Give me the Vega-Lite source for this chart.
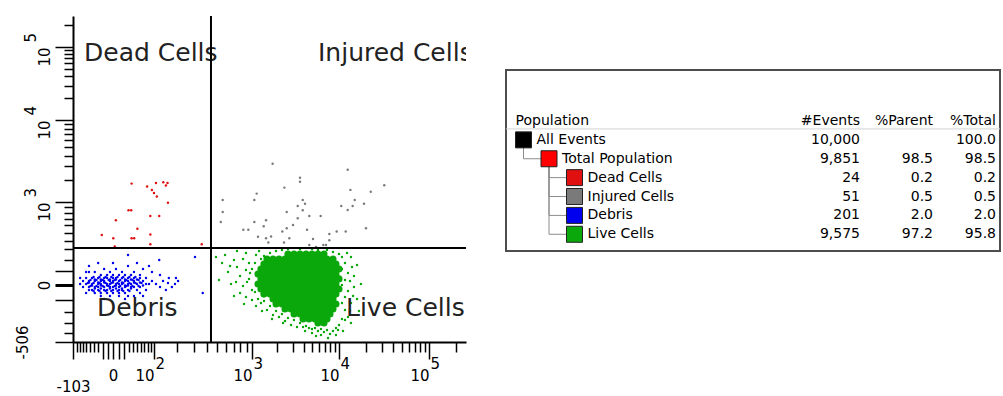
{
  "$schema": "https://vega.github.io/schema/vega-lite/v6.json",
  "background": "white",
  "padding": {"left": 15, "top": 15, "right": 0, "bottom": 0},
  "spacing": 38,
  "config": {"view": {"stroke": null}, "font": "DejaVu Sans"},
  "datasets": {
    "events": [
      {"population":"Dead Cells","x":37,"y":1820},{"population":"Dead Cells","x":78,"y":1670},{"population":"Dead Cells","x":93,"y":1495},{"population":"Dead Cells","x":107,"y":1858},{"population":"Dead Cells","x":135,"y":1895},{"population":"Dead Cells","x":153,"y":1858},{"population":"Dead Cells","x":146,"y":1720},{"population":"Dead Cells","x":100,"y":1357},{"population":"Dead Cells","x":110,"y":1210},{"population":"Dead Cells","x":155,"y":987},{"population":"Dead Cells","x":30,"y":844},{"population":"Dead Cells","x":36,"y":844},{"population":"Dead Cells","x":5,"y":678},{"population":"Dead Cells","x":88,"y":747},{"population":"Dead Cells","x":119,"y":747},{"population":"Dead Cells","x":51,"y":554},{"population":"Dead Cells","x":-22,"y":469},{"population":"Dead Cells","x":0.5,"y":428},{"population":"Dead Cells","x":37,"y":428},{"population":"Dead Cells","x":43,"y":428},{"population":"Dead Cells","x":88,"y":476},{"population":"Dead Cells","x":88,"y":357},{"population":"Dead Cells","x":3,"y":333},{"population":"Dead Cells","x":359,"y":357},
      {"population":"Injured Cells","x":1760,"y":3225},{"population":"Injured Cells","x":12500,"y":2730},{"population":"Injured Cells","x":3640,"y":2170},{"population":"Injured Cells","x":3640,"y":1930},{"population":"Injured Cells","x":31900,"y":1730},{"population":"Injured Cells","x":2410,"y":1610},{"population":"Injured Cells","x":13400,"y":1500},{"population":"Injured Cells","x":1140,"y":1330},{"population":"Injured Cells","x":22600,"y":1415},{"population":"Injured Cells","x":561,"y":1074},{"population":"Injured Cells","x":1067,"y":1074},{"population":"Injured Cells","x":3910,"y":1074},{"population":"Injured Cells","x":14980,"y":1074},{"population":"Injured Cells","x":4150,"y":967},{"population":"Injured Cells","x":3430,"y":923},{"population":"Injured Cells","x":3910,"y":844},{"population":"Injured Cells","x":10600,"y":923},{"population":"Injured Cells","x":14200,"y":923},{"population":"Injured Cells","x":19000,"y":967},{"population":"Injured Cells","x":561,"y":815},{"population":"Injured Cells","x":2565,"y":815},{"population":"Injured Cells","x":12500,"y":850},{"population":"Injured Cells","x":539,"y":652},{"population":"Injured Cells","x":1067,"y":652},{"population":"Injured Cells","x":1473,"y":678},{"population":"Injured Cells","x":3430,"y":709},{"population":"Injured Cells","x":4640,"y":747},{"population":"Injured Cells","x":6230,"y":747},{"population":"Injured Cells","x":1383,"y":588},{"population":"Injured Cells","x":846,"y":540},{"population":"Injured Cells","x":932,"y":540},{"population":"Injured Cells","x":2281,"y":515},{"population":"Injured Cells","x":2565,"y":560},{"population":"Injured Cells","x":4371,"y":540},{"population":"Injured Cells","x":9425,"y":515},{"population":"Injured Cells","x":11890,"y":515},{"population":"Injured Cells","x":19990,"y":560},{"population":"Injured Cells","x":1473,"y":428},{"population":"Injured Cells","x":1687,"y":450},{"population":"Injured Cells","x":2747,"y":428},{"population":"Injured Cells","x":7792,"y":482},{"population":"Injured Cells","x":7792,"y":405},{"population":"Injured Cells","x":1568,"y":378},{"population":"Injured Cells","x":2388,"y":378},{"population":"Injured Cells","x":4640,"y":349},{"population":"Injured Cells","x":6669,"y":349},{"population":"Injured Cells","x":7156,"y":349},{"population":"Injured Cells","x":5525,"y":327},{"population":"Injured Cells","x":1182,"y":446},{"population":"Injured Cells","x":3029,"y":606},{"population":"Injured Cells","x":5110,"y":419},
      {"population":"Debris","x":-24,"y":71},{"population":"Debris","x":-11,"y":71},{"population":"Debris","x":0,"y":71},{"population":"Debris","x":10.7,"y":71},{"population":"Debris","x":22.5,"y":71},{"population":"Debris","x":35.6,"y":71},
      {"population":"Debris","x":-45,"y":49},{"population":"Debris","x":-30,"y":49},{"population":"Debris","x":-17,"y":49},{"population":"Debris","x":-11,"y":49},{"population":"Debris","x":0,"y":49},{"population":"Debris","x":5.2,"y":49},{"population":"Debris","x":16.4,"y":49},{"population":"Debris","x":28.9,"y":49},{"population":"Debris","x":42.6,"y":49},{"population":"Debris","x":57.8,"y":49},
      {"population":"Debris","x":-53,"y":27},{"population":"Debris","x":-38,"y":27},{"population":"Debris","x":-24,"y":27},{"population":"Debris","x":-17,"y":27},{"population":"Debris","x":-5.5,"y":27},{"population":"Debris","x":0,"y":27},{"population":"Debris","x":10.7,"y":27},{"population":"Debris","x":22.5,"y":27},{"population":"Debris","x":28.9,"y":27},{"population":"Debris","x":42.6,"y":27},{"population":"Debris","x":66.1,"y":27},
      {"population":"Debris","x":-61,"y":7},{"population":"Debris","x":-45,"y":7},{"population":"Debris","x":-30,"y":7},{"population":"Debris","x":-24,"y":7},{"population":"Debris","x":-11,"y":7},{"population":"Debris","x":-5.5,"y":7},{"population":"Debris","x":5.2,"y":7},{"population":"Debris","x":10.7,"y":7},{"population":"Debris","x":16.4,"y":7},{"population":"Debris","x":28.9,"y":7},{"population":"Debris","x":35.6,"y":7},{"population":"Debris","x":50,"y":7},{"population":"Debris","x":74.7,"y":7},
      {"population":"Debris","x":-53,"y":-12},{"population":"Debris","x":-38,"y":-12},{"population":"Debris","x":-30,"y":-12},{"population":"Debris","x":-17,"y":-12},{"population":"Debris","x":-5.5,"y":-12},{"population":"Debris","x":0,"y":-12},{"population":"Debris","x":10.7,"y":-12},{"population":"Debris","x":22.5,"y":-12},{"population":"Debris","x":35.6,"y":-12},{"population":"Debris","x":42.6,"y":-12},{"population":"Debris","x":57.8,"y":-12},
      {"population":"Debris","x":-45,"y":-32},{"population":"Debris","x":-30,"y":-32},{"population":"Debris","x":-17,"y":-32},{"population":"Debris","x":-11,"y":-32},{"population":"Debris","x":0,"y":-32},{"population":"Debris","x":10.7,"y":-32},{"population":"Debris","x":16.4,"y":-32},{"population":"Debris","x":28.9,"y":-32},{"population":"Debris","x":50,"y":-32},
      {"population":"Debris","x":-24,"y":-52},{"population":"Debris","x":-11,"y":-52},{"population":"Debris","x":0,"y":-52},{"population":"Debris","x":10.7,"y":-52},{"population":"Debris","x":22.5,"y":-52},
      {"population":"Debris","x":-38,"y":38},{"population":"Debris","x":-24,"y":38},{"population":"Debris","x":-5.5,"y":38},{"population":"Debris","x":5.2,"y":38},{"population":"Debris","x":22.5,"y":38},{"population":"Debris","x":35.6,"y":38},{"population":"Debris","x":50,"y":38},
      {"population":"Debris","x":-53,"y":17},{"population":"Debris","x":-30,"y":17},{"population":"Debris","x":-17,"y":17},{"population":"Debris","x":0,"y":17},{"population":"Debris","x":16.4,"y":17},{"population":"Debris","x":42.6,"y":17},{"population":"Debris","x":57.8,"y":17},
      {"population":"Debris","x":-45,"y":-3},{"population":"Debris","x":-24,"y":-3},{"population":"Debris","x":-11,"y":-3},{"population":"Debris","x":5.2,"y":-3},{"population":"Debris","x":22.5,"y":-3},{"population":"Debris","x":28.9,"y":-3},{"population":"Debris","x":66.1,"y":-3},
      {"population":"Debris","x":-38,"y":-22},{"population":"Debris","x":-24,"y":-22},{"population":"Debris","x":-5.5,"y":-22},{"population":"Debris","x":5.2,"y":-22},{"population":"Debris","x":16.4,"y":-22},{"population":"Debris","x":35.6,"y":-22},
      {"population":"Debris","x":-41,"y":56},{"population":"Debris","x":-27,"y":56},{"population":"Debris","x":-14,"y":56},{"population":"Debris","x":-3,"y":56},{"population":"Debris","x":8,"y":56},{"population":"Debris","x":19,"y":56},{"population":"Debris","x":32,"y":56},{"population":"Debris","x":46,"y":56},
      {"population":"Debris","x":-49,"y":34},{"population":"Debris","x":-34,"y":34},{"population":"Debris","x":-20,"y":34},{"population":"Debris","x":-8,"y":34},{"population":"Debris","x":3,"y":34},{"population":"Debris","x":13,"y":34},{"population":"Debris","x":25,"y":34},{"population":"Debris","x":39,"y":34},{"population":"Debris","x":54,"y":34},
      {"population":"Debris","x":-56,"y":13},{"population":"Debris","x":-41,"y":13},{"population":"Debris","x":-27,"y":13},{"population":"Debris","x":-14,"y":13},{"population":"Debris","x":-3,"y":13},{"population":"Debris","x":8,"y":13},{"population":"Debris","x":19,"y":13},{"population":"Debris","x":32,"y":13},{"population":"Debris","x":46,"y":13},{"population":"Debris","x":62,"y":13},
      {"population":"Debris","x":-49,"y":-6},{"population":"Debris","x":-34,"y":-6},{"population":"Debris","x":-20,"y":-6},{"population":"Debris","x":-8,"y":-6},{"population":"Debris","x":3,"y":-6},{"population":"Debris","x":13,"y":-6},{"population":"Debris","x":25,"y":-6},{"population":"Debris","x":39,"y":-6},{"population":"Debris","x":54,"y":-6},
      {"population":"Debris","x":-41,"y":-38},{"population":"Debris","x":-27,"y":-38},{"population":"Debris","x":-14,"y":-38},{"population":"Debris","x":-3,"y":-38},{"population":"Debris","x":8,"y":-38},{"population":"Debris","x":19,"y":-38},{"population":"Debris","x":32,"y":-38},
      {"population":"Debris","x":-70,"y":27},{"population":"Debris","x":-61,"y":49},{"population":"Debris","x":-79,"y":7},{"population":"Debris","x":-70,"y":-12},{"population":"Debris","x":-61,"y":-52},{"population":"Debris","x":-53,"y":94},{"population":"Debris","x":-38,"y":94},{"population":"Debris","x":-17,"y":118},{"population":"Debris","x":-5.5,"y":94},{"population":"Debris","x":5.2,"y":118},{"population":"Debris","x":16.4,"y":94},{"population":"Debris","x":28.9,"y":143},{"population":"Debris","x":42.6,"y":94},{"population":"Debris","x":57.8,"y":71},{"population":"Debris","x":74.7,"y":49},{"population":"Debris","x":83.8,"y":7},{"population":"Debris","x":93.3,"y":27},{"population":"Debris","x":74.7,"y":-32},{"population":"Debris","x":57.8,"y":-52},{"population":"Debris","x":42.6,"y":-72},{"population":"Debris","x":28.9,"y":-72},{"population":"Debris","x":10.7,"y":-72},{"population":"Debris","x":-5.5,"y":-72},{"population":"Debris","x":-24,"y":-72},{"population":"Debris","x":-38,"y":-52},{"population":"Debris","x":-53,"y":-32},{"population":"Debris","x":107,"y":7},{"population":"Debris","x":122,"y":-12},{"population":"Debris","x":134,"y":27},{"population":"Debris","x":146,"y":-32},{"population":"Debris","x":159,"y":49},{"population":"Debris","x":173,"y":-12},{"population":"Debris","x":188,"y":7},{"population":"Debris","x":204,"y":27},{"population":"Debris","x":122,"y":71},{"population":"Debris","x":93.3,"y":94},{"population":"Debris","x":66.1,"y":118},{"population":"Debris","x":28.9,"y":244},{"population":"Debris","x":119,"y":196},{"population":"Debris","x":308,"y":224},{"population":"Debris","x":367,"y":-52},{"population":"Debris","x":193,"y":49},{"population":"Debris","x":155,"y":13},{"population":"Debris","x":-53,"y":143},{"population":"Debris","x":-30,"y":169},{"population":"Debris","x":0,"y":169},{"population":"Debris","x":50,"y":169},{"population":"Debris","x":83.8,"y":143},{"population":"Debris","x":-17,"y":-94},{"population":"Debris","x":22.5,"y":-94},{"population":"Debris","x":66.1,"y":-72},{"population":"Debris","x":-61,"y":94},{"population":"Debris","x":-79,"y":49},
      {"population":"Live Cells","x":488,"y":224},{"population":"Live Cells","x":553,"y":169},{"population":"Live Cells","x":588,"y":244},{"population":"Live Cells","x":625,"y":94},{"population":"Live Cells","x":664,"y":7},{"population":"Live Cells","x":704,"y":196},{"population":"Live Cells","x":747,"y":135},{"population":"Live Cells","x":793,"y":63},{"population":"Live Cells","x":793,"y":-52},{"population":"Live Cells","x":841,"y":205},{"population":"Live Cells","x":841,"y":-6},{"population":"Live Cells","x":891,"y":110},{"population":"Live Cells","x":891,"y":-79},{"population":"Live Cells","x":944,"y":42},{"population":"Live Cells","x":944,"y":169},{"population":"Live Cells","x":1000,"y":-32},{"population":"Live Cells","x":1000,"y":-101},{"population":"Live Cells","x":1000,"y":118},{"population":"Live Cells","x":520,"y":34},{"population":"Live Cells","x":704,"y":-72},{"population":"Live Cells","x":891,"y":264},{"population":"Live Cells","x":747,"y":284},
      {"population":"Live Cells","x":1087,"y":-45},{"population":"Live Cells","x":1087,"y":169},{"population":"Live Cells","x":1182,"y":-94},{"population":"Live Cells","x":1283,"y":-123},{"population":"Live Cells","x":1394,"y":-108},{"population":"Live Cells","x":1512,"y":-179},{"population":"Live Cells","x":1641,"y":-147},{"population":"Live Cells","x":1778,"y":-222},{"population":"Live Cells","x":1929,"y":-188},{"population":"Live Cells","x":2089,"y":-240},{"population":"Live Cells","x":2262,"y":-214},{"population":"Live Cells","x":2451,"y":-277},{"population":"Live Cells","x":2652,"y":-249},{"population":"Live Cells","x":2872,"y":-317},{"population":"Live Cells","x":3107,"y":-268},{"population":"Live Cells","x":3364,"y":-337},{"population":"Live Cells","x":3638,"y":-297},
      {"population":"Live Cells","x":3937,"y":-337},{"population":"Live Cells","x":4256,"y":-327},{"population":"Live Cells","x":4600,"y":-347},{"population":"Live Cells","x":4975,"y":-358},{"population":"Live Cells","x":5380,"y":-347},{"population":"Live Cells","x":5814,"y":-379},{"population":"Live Cells","x":6280,"y":-358},{"population":"Live Cells","x":6788,"y":-390},{"population":"Live Cells","x":7340,"y":-368},{"population":"Live Cells","x":7930,"y":-412},{"population":"Live Cells","x":8570,"y":-379},{"population":"Live Cells","x":9250,"y":-347},{"population":"Live Cells","x":10000,"y":-317},{"population":"Live Cells","x":9250,"y":-423},{"population":"Live Cells","x":6280,"y":-423},{"population":"Live Cells","x":4975,"y":-401},
      {"population":"Live Cells","x":10800,"y":224},{"population":"Live Cells","x":11670,"y":169},{"population":"Live Cells","x":10800,"y":118},{"population":"Live Cells","x":12600,"y":86},{"population":"Live Cells","x":11670,"y":34},{"population":"Live Cells","x":10800,"y":0},{"population":"Live Cells","x":12600,"y":-38},{"population":"Live Cells","x":11670,"y":-79},{"population":"Live Cells","x":13610,"y":-123},{"population":"Live Cells","x":10800,"y":-123},{"population":"Live Cells","x":11670,"y":-179},{"population":"Live Cells","x":12600,"y":-240},{"population":"Live Cells","x":10800,"y":-259},{"population":"Live Cells","x":13610,"y":-297},{"population":"Live Cells","x":14700,"y":-12},{"population":"Live Cells","x":15880,"y":-94},{"population":"Live Cells","x":14700,"y":63},{"population":"Live Cells","x":15880,"y":152},{"population":"Live Cells","x":13610,"y":224},
      {"population":"Live Cells","x":1394,"y":234},{"population":"Live Cells","x":1641,"y":264},{"population":"Live Cells","x":1929,"y":284},{"population":"Live Cells","x":2262,"y":295},{"population":"Live Cells","x":2652,"y":305},{"population":"Live Cells","x":3638,"y":305},{"population":"Live Cells","x":4975,"y":305},{"population":"Live Cells","x":5814,"y":295},{"population":"Live Cells","x":7340,"y":295},{"population":"Live Cells","x":8570,"y":274},{"population":"Live Cells","x":10000,"y":254},{"population":"Live Cells","x":1283,"y":205},
      {"population":"Live Cells","x":963,"y":86},{"population":"Live Cells","x":909,"y":20},{"population":"Live Cells","x":733,"y":20},{"population":"Live Cells","x":651,"y":143},{"population":"Live Cells","x":858,"y":-131},{"population":"Live Cells","x":1119,"y":-147},{"population":"Live Cells","x":1320,"y":-188},{"population":"Live Cells","x":1732,"y":-259},{"population":"Live Cells","x":2325,"y":-297},{"population":"Live Cells","x":4150,"y":-379},{"population":"Live Cells","x":5525,"y":-434},{"population":"Live Cells","x":7537,"y":-458},{"population":"Live Cells","x":11090,"y":-379},{"population":"Live Cells","x":13270,"y":-188},{"population":"Live Cells","x":14340,"y":-72},{"population":"Live Cells","x":13270,"y":27},{"population":"Live Cells","x":13970,"y":135},{"population":"Live Cells","x":12290,"y":264},{"population":"Live Cells","x":17570,"y":7},{"population":"Live Cells","x":16700,"y":-188},{"population":"Live Cells","x":1119,"y":244},{"population":"Live Cells","x":1216,"y":284},{"population":"Live Cells","x":11670,"y":-268},{"population":"Live Cells","x":9750,"y":-368}
    ],
    "liveCore": [
      {"x":2650,"y":254},{"x":3110,"y":254},{"x":3640,"y":254},{"x":4260,"y":254},{"x":4980,"y":254},{"x":5810,"y":254},{"x":6790,"y":254},
      {"x":1510,"y":205},{"x":1780,"y":205},{"x":2090,"y":205},{"x":2450,"y":205},{"x":2870,"y":205},{"x":3360,"y":205},{"x":3940,"y":205},{"x":4600,"y":205},{"x":5380,"y":205},{"x":6280,"y":205},{"x":7340,"y":205},{"x":8570,"y":205},
      {"x":1390,"y":160},{"x":1640,"y":160},{"x":1930,"y":160},{"x":2260,"y":160},{"x":2650,"y":160},{"x":3110,"y":160},{"x":3640,"y":160},{"x":4260,"y":160},{"x":4980,"y":160},{"x":5810,"y":160},{"x":6790,"y":160},{"x":7930,"y":160},{"x":9250,"y":160},
      {"x":1280,"y":118},{"x":1510,"y":118},{"x":1780,"y":118},{"x":2090,"y":118},{"x":2450,"y":118},{"x":2870,"y":118},{"x":3360,"y":118},{"x":3940,"y":118},{"x":4600,"y":118},{"x":5380,"y":118},{"x":6280,"y":118},{"x":7340,"y":118},{"x":8570,"y":118},{"x":10000,"y":118},
      {"x":1180,"y":79},{"x":1390,"y":79},{"x":1640,"y":79},{"x":1930,"y":79},{"x":2260,"y":79},{"x":2650,"y":79},{"x":3110,"y":79},{"x":3640,"y":79},{"x":4260,"y":79},{"x":4980,"y":79},{"x":5810,"y":79},{"x":6790,"y":79},{"x":7930,"y":79},{"x":9250,"y":79},
      {"x":1280,"y":42},{"x":1510,"y":42},{"x":1780,"y":42},{"x":2090,"y":42},{"x":2450,"y":42},{"x":2870,"y":42},{"x":3360,"y":42},{"x":3940,"y":42},{"x":4600,"y":42},{"x":5380,"y":42},{"x":6280,"y":42},{"x":7340,"y":42},{"x":8570,"y":42},{"x":10000,"y":42},
      {"x":1180,"y":7},{"x":1390,"y":7},{"x":1640,"y":7},{"x":1930,"y":7},{"x":2260,"y":7},{"x":2650,"y":7},{"x":3110,"y":7},{"x":3640,"y":7},{"x":4260,"y":7},{"x":4980,"y":7},{"x":5810,"y":7},{"x":6790,"y":7},{"x":7930,"y":7},{"x":9250,"y":7},
      {"x":1280,"y":-25},{"x":1510,"y":-25},{"x":1780,"y":-25},{"x":2090,"y":-25},{"x":2450,"y":-25},{"x":2870,"y":-25},{"x":3360,"y":-25},{"x":3940,"y":-25},{"x":4600,"y":-25},{"x":5380,"y":-25},{"x":6280,"y":-25},{"x":7340,"y":-25},{"x":8570,"y":-25},{"x":10000,"y":-25},
      {"x":1390,"y":-59},{"x":1640,"y":-59},{"x":1930,"y":-59},{"x":2260,"y":-59},{"x":2650,"y":-59},{"x":3110,"y":-59},{"x":3640,"y":-59},{"x":4260,"y":-59},{"x":4980,"y":-59},{"x":5810,"y":-59},{"x":6790,"y":-59},{"x":7930,"y":-59},{"x":9250,"y":-59},
      {"x":1780,"y":-94},{"x":2090,"y":-94},{"x":2450,"y":-94},{"x":2870,"y":-94},{"x":3360,"y":-94},{"x":3940,"y":-94},{"x":4600,"y":-94},{"x":5380,"y":-94},{"x":6280,"y":-94},{"x":7340,"y":-94},{"x":8570,"y":-94},
      {"x":1930,"y":-131},{"x":2260,"y":-131},{"x":2650,"y":-131},{"x":3110,"y":-131},{"x":3640,"y":-131},{"x":4260,"y":-131},{"x":4980,"y":-131},{"x":5810,"y":-131},{"x":6790,"y":-131},{"x":7930,"y":-131},{"x":9250,"y":-131},
      {"x":2450,"y":-171},{"x":2870,"y":-171},{"x":3360,"y":-171},{"x":3940,"y":-171},{"x":4600,"y":-171},{"x":5380,"y":-171},{"x":6280,"y":-171},{"x":7340,"y":-171},{"x":8570,"y":-171},
      {"x":3110,"y":-214},{"x":3640,"y":-214},{"x":4260,"y":-214},{"x":4980,"y":-214},{"x":5810,"y":-214},{"x":6790,"y":-214},{"x":7930,"y":-214},
      {"x":3940,"y":-259},{"x":4600,"y":-259},{"x":5380,"y":-259},{"x":6280,"y":-259},{"x":7340,"y":-259},
      {"x":5810,"y":-297},{"x":6790,"y":-297}
    ],
    "quadrants": [
      {"label":"Dead Cells","x":-67,"y":83000},
      {"label":"Injured Cells","x":5810,"y":83000},
      {"label":"Debris","x":-33,"y":-163},
      {"label":"Live Cells","x":11960,"y":-163}
    ],
    "gates": [{"x":439,"y":316}],
    "table": [
      {"population":"All Events","level":0,"row":1,"events":10000,"pctParent":null,"pctTotal":100.0},
      {"population":"Total Population","level":1,"row":2,"parentLevel":0,"parentRow":1,"events":9851,"pctParent":98.5,"pctTotal":98.5},
      {"population":"Dead Cells","level":2,"row":3,"parentLevel":1,"parentRow":2,"events":24,"pctParent":0.2,"pctTotal":0.2},
      {"population":"Injured Cells","level":2,"row":4,"parentLevel":1,"parentRow":2,"events":51,"pctParent":0.5,"pctTotal":0.5},
      {"population":"Debris","level":2,"row":5,"parentLevel":1,"parentRow":2,"events":201,"pctParent":2.0,"pctTotal":2.0},
      {"population":"Live Cells","level":2,"row":6,"parentLevel":1,"parentRow":2,"events":9575,"pctParent":97.2,"pctTotal":95.8}
    ],
    "header": [
      {"col":0,"label":"#Events"},
      {"col":1,"label":"%Parent"},
      {"col":2,"label":"%Total"}
    ]
  },
  "hconcat": [
    {
      "width": 393,
      "height": 326,
      "layer": [
        {
          "data": {"name": "events"},
          "mark": {"type": "circle", "size": 6, "opacity": 1},
          "encoding": {
            "x": {
              "field": "x", "type": "quantitative",
              "scale": {"type": "symlog", "constant": 100, "domain": [-103, 0, 100, 1000, 10000, 100000, 262144], "range": [0, 40, 81, 179, 266, 356, 393], "zero": false, "nice": false},
              "axis": {
                "orient": "bottom", "title": null, "grid": false,
                "values": [-103, -90, -80, -70, -60, -50, -40, -30, -20, -10, 0, 10, 20, 30, 40, 50, 60, 70, 80, 90, 100, 200, 300, 400, 500, 600, 700, 800, 900, 1000, 2000, 3000, 4000, 5000, 6000, 7000, 8000, 9000, 10000, 20000, 30000, 40000, 50000, 60000, 70000, 80000, 90000, 100000, 200000],
                "labelExpr": "datum.value == -103 ? '-103' : datum.value == 0 ? '0' : (datum.value == 100 || datum.value == 1000 || datum.value == 10000 || datum.value == 100000) ? '10' : ''",
                "labelAlign": {"condition": {"test": "datum.value == 0 || datum.value == -103", "value": "center"}, "value": "right"},
                "labelPadding": {"condition": {"test": "datum.value == -103", "value": 20}, "value": 9},
                "labelBaseline": "top",
                "labelFont": "DejaVu Sans", "labelFontSize": 15, "labelColor": "#000",
                "labelOverlap": false, "labelFlush": false, "labelBound": false,
                "tickSize": {"condition": {"test": "indexof([-103, -20, -10, 0, 10, 20, 100, 1000, 10000, 100000], datum.value) >= 0", "value": 17}, "value": 10},
                "tickColor": "#000", "tickWidth": 1.5,
                "domainColor": "#000", "domainWidth": 2
              }
            },
            "y": {
              "field": "y", "type": "quantitative",
              "scale": {"type": "symlog", "constant": 500, "domain": [-506, 0, 1000, 10000, 100000, 262144], "range": [326, 269, 186, 104, 31, 0], "zero": false, "nice": false},
              "axis": {
                "orient": "left", "title": null, "grid": false,
                "values": [-506, -400, -300, -200, -100, 0, 100, 200, 300, 400, 500, 600, 700, 800, 900, 1000, 2000, 3000, 4000, 5000, 6000, 7000, 8000, 9000, 10000, 20000, 30000, 40000, 50000, 60000, 70000, 80000, 90000, 100000, 200000],
                "labelExpr": "datum.value == -506 ? '-506' : datum.value == 0 ? '0' : (datum.value == 1000 || datum.value == 10000 || datum.value == 100000) ? '10' : ''",
                "labelAngle": -90,
                "labelAlign": {"condition": {"test": "datum.value == 0 || datum.value == -506", "value": "center"}, "value": "right"},
                "labelBaseline": "bottom",
                "labelPadding": {"condition": {"test": "datum.value == -506", "value": 25}, "value": 3},
                "labelFont": "DejaVu Sans", "labelFontSize": 15, "labelColor": "#000",
                "labelOverlap": false, "labelFlush": false, "labelBound": false,
                "tickSize": {"condition": {"test": "indexof([-506, -100, 0, 100, 1000, 10000, 100000], datum.value) >= 0", "value": 18}, "value": 9},
                "tickWidth": {"condition": {"test": "datum.value == 0", "value": 3}, "value": 1.5},
                "tickColor": "#000",
                "domainColor": "#000", "domainWidth": 2
              }
            },
            "color": {
              "field": "population", "type": "nominal",
              "scale": {"domain": ["All Events", "Total Population", "Dead Cells", "Injured Cells", "Debris", "Live Cells"], "range": ["#000000", "#ff0000", "#e01010", "#7a7a7a", "#0000ee", "#0aa80a"]},
              "legend": null
            }
          }
        },
        {
          "data": {"name": "liveCore"},
          "mark": {"type": "circle", "size": 50, "opacity": 1},
          "encoding": {
            "x": {"field": "x", "type": "quantitative", "axis": null,
              "scale": {"type": "symlog", "constant": 100, "domain": [-103, 0, 100, 1000, 10000, 100000, 262144], "range": [0, 40, 81, 179, 266, 356, 393], "zero": false, "nice": false}},
            "y": {"field": "y", "type": "quantitative", "axis": null,
              "scale": {"type": "symlog", "constant": 500, "domain": [-506, 0, 1000, 10000, 100000, 262144], "range": [326, 269, 186, 104, 31, 0], "zero": false, "nice": false}},
            "color": {"datum": "Live Cells", "type": "nominal", "legend": null}
          }
        },
        {
          "data": {"name": "quadrants"},
          "mark": {"type": "text", "align": "left", "baseline": "middle", "font": "DejaVu Sans", "fontSize": 25, "color": "#222", "clip": true},
          "encoding": {
            "x": {"field": "x", "type": "quantitative", "axis": null,
              "scale": {"type": "symlog", "constant": 100, "domain": [-103, 0, 100, 1000, 10000, 100000, 262144], "range": [0, 40, 81, 179, 266, 356, 393], "zero": false, "nice": false}},
            "y": {"field": "y", "type": "quantitative", "axis": null,
              "scale": {"type": "symlog", "constant": 500, "domain": [-506, 0, 1000, 10000, 100000, 262144], "range": [326, 269, 186, 104, 31, 0], "zero": false, "nice": false}},
            "text": {"field": "label"}
          }
        },
        {
          "data": {"name": "gates"},
          "mark": {"type": "rule", "color": "#000", "strokeWidth": 2},
          "encoding": {
            "x": {
              "field": "x", "type": "quantitative",
              "scale": {"type": "symlog", "constant": 100, "domain": [-103, 0, 100, 1000, 10000, 100000, 262144], "range": [0, 40, 81, 179, 266, 356, 393], "zero": false, "nice": false},
              "axis": {
                "orient": "bottom", "title": null, "grid": false, "domain": false, "ticks": false,
                "values": [100, 1000, 10000, 100000],
                "labelExpr": "datum.value == 100 ? '2' : datum.value == 1000 ? '3' : datum.value == 10000 ? '4' : '5'",
                "labelAlign": "left", "labelBaseline": "top", "labelOffset": 1, "labelPadding": 14,
                "labelFont": "DejaVu Sans", "labelFontSize": 15, "labelColor": "#000",
                "labelOverlap": false, "labelFlush": false, "labelBound": false
              }
            }
          }
        },
        {
          "data": {"name": "gates"},
          "mark": {"type": "rule", "color": "#000", "strokeWidth": 2},
          "encoding": {
            "y": {
              "field": "y", "type": "quantitative",
              "scale": {"type": "symlog", "constant": 500, "domain": [-506, 0, 1000, 10000, 100000, 262144], "range": [326, 269, 186, 104, 31, 0], "zero": false, "nice": false},
              "axis": {
                "orient": "left", "title": null, "grid": false, "domain": false, "ticks": false,
                "values": [1000, 10000, 100000],
                "labelExpr": "datum.value == 1000 ? '3' : datum.value == 10000 ? '4' : '5'",
                "labelAngle": -90, "labelAlign": "left", "labelBaseline": "bottom", "labelOffset": -5, "labelPadding": 35,
                "labelFont": "DejaVu Sans", "labelFontSize": 15, "labelColor": "#000",
                "labelOverlap": false, "labelFlush": false, "labelBound": false
              }
            }
          }
        }
      ],
      "resolve": {"scale": {"x": "independent", "y": "independent"}}
    },
    {
      "width": 494,
      "height": 235,
      "layer": [
        {
          "data": {"values": [{}]},
          "mark": {"type": "rect", "filled": false, "color": "#4d4d4d", "strokeWidth": 2},
          "encoding": {
            "y": {"datum": -2.701, "type": "quantitative", "axis": null, "scale": {"domain": [-5.561, 6.886], "reverse": true, "zero": false, "nice": false}},
            "y2": {"datum": 6.886}
          }
        },
        {
          "data": {"values": [{}]},
          "mark": {"type": "rule", "color": "#d4d4d4", "strokeWidth": 1},
          "encoding": {
            "y": {"datum": 0.42, "type": "quantitative", "axis": null, "scale": {"domain": [-5.561, 6.886], "reverse": true, "zero": false, "nice": false}}
          }
        },
        {
          "data": {"name": "table"},
          "transform": [{"filter": "datum.level > 0"}],
          "mark": {"type": "rule", "color": "#8c8c8c", "strokeWidth": 1},
          "encoding": {
            "x": {"field": "parentLevel", "type": "quantitative", "axis": null, "scale": {"domain": [0, 2], "range": [17.5, 68.5], "zero": false, "nice": false}},
            "x2": {"field": "level"},
            "y": {"field": "row", "type": "quantitative", "axis": null, "scale": {"domain": [-5.561, 6.886], "reverse": true, "zero": false, "nice": false}}
          }
        },
        {
          "data": {"name": "table"},
          "transform": [{"filter": "datum.level > 0"}],
          "mark": {"type": "rule", "color": "#8c8c8c", "strokeWidth": 1},
          "encoding": {
            "x": {"field": "parentLevel", "type": "quantitative", "axis": null, "scale": {"domain": [0, 2], "range": [17.5, 68.5], "zero": false, "nice": false}},
            "y": {"field": "parentRow", "type": "quantitative", "axis": null, "scale": {"domain": [-5.561, 6.886], "reverse": true, "zero": false, "nice": false}},
            "y2": {"field": "row"}
          }
        },
        {
          "data": {"name": "table"},
          "mark": {"type": "point", "shape": "square", "filled": true, "size": 256, "stroke": "#222", "strokeWidth": 1, "opacity": 1},
          "encoding": {
            "x": {"field": "level", "type": "quantitative", "axis": null, "scale": {"domain": [0, 2], "range": [17.5, 68.5], "zero": false, "nice": false}},
            "y": {"field": "row", "type": "quantitative", "axis": null, "scale": {"domain": [-5.561, 6.886], "reverse": true, "zero": false, "nice": false}},
            "color": {"field": "population", "type": "nominal", "legend": null}
          }
        },
        {
          "data": {"name": "table"},
          "mark": {"type": "text", "align": "left", "baseline": "middle", "dx": 13, "font": "DejaVu Sans", "fontSize": 14, "color": "#000"},
          "encoding": {
            "x": {"field": "level", "type": "quantitative", "axis": null, "scale": {"domain": [0, 2], "range": [17.5, 68.5], "zero": false, "nice": false}},
            "y": {"field": "row", "type": "quantitative", "axis": null, "scale": {"domain": [-5.561, 6.886], "reverse": true, "zero": false, "nice": false}},
            "text": {"field": "population"}
          }
        },
        {
          "data": {"values": [{}]},
          "mark": {"type": "text", "align": "left", "baseline": "middle", "dx": -8, "font": "DejaVu Sans", "fontSize": 14, "color": "#000"},
          "encoding": {
            "x": {"datum": 0, "type": "quantitative", "axis": null, "scale": {"domain": [0, 2], "range": [17.5, 68.5], "zero": false, "nice": false}},
            "y": {"datum": 0, "type": "quantitative", "axis": null, "scale": {"domain": [-5.561, 6.886], "reverse": true, "zero": false, "nice": false}},
            "text": {"value": "Population"}
          }
        },
        {
          "data": {"name": "header"},
          "mark": {"type": "text", "align": "right", "baseline": "middle", "font": "DejaVu Sans", "fontSize": 14, "color": "#000"},
          "encoding": {
            "x": {"field": "col", "type": "quantitative", "axis": null, "scale": {"domain": [0, 1, 2], "range": [354, 427, 490], "zero": false, "nice": false}},
            "y": {"datum": 0, "type": "quantitative", "axis": null, "scale": {"domain": [-5.561, 6.886], "reverse": true, "zero": false, "nice": false}},
            "text": {"field": "label"}
          }
        },
        {
          "data": {"name": "table"},
          "mark": {"type": "text", "align": "right", "baseline": "middle", "font": "DejaVu Sans", "fontSize": 14, "color": "#000"},
          "encoding": {
            "x": {"datum": 0, "type": "quantitative", "axis": null, "scale": {"domain": [0, 1, 2], "range": [354, 427, 490], "zero": false, "nice": false}},
            "y": {"field": "row", "type": "quantitative", "axis": null, "scale": {"domain": [-5.561, 6.886], "reverse": true, "zero": false, "nice": false}},
            "text": {"field": "events", "type": "quantitative", "format": ","}
          }
        },
        {
          "data": {"name": "table"},
          "transform": [{"filter": "datum.pctParent != null"}],
          "mark": {"type": "text", "align": "right", "baseline": "middle", "font": "DejaVu Sans", "fontSize": 14, "color": "#000"},
          "encoding": {
            "x": {"datum": 1, "type": "quantitative", "axis": null, "scale": {"domain": [0, 1, 2], "range": [354, 427, 490], "zero": false, "nice": false}},
            "y": {"field": "row", "type": "quantitative", "axis": null, "scale": {"domain": [-5.561, 6.886], "reverse": true, "zero": false, "nice": false}},
            "text": {"field": "pctParent", "type": "quantitative", "format": ".1f"}
          }
        },
        {
          "data": {"name": "table"},
          "mark": {"type": "text", "align": "right", "baseline": "middle", "font": "DejaVu Sans", "fontSize": 14, "color": "#000"},
          "encoding": {
            "x": {"datum": 2, "type": "quantitative", "axis": null, "scale": {"domain": [0, 1, 2], "range": [354, 427, 490], "zero": false, "nice": false}},
            "y": {"field": "row", "type": "quantitative", "axis": null, "scale": {"domain": [-5.561, 6.886], "reverse": true, "zero": false, "nice": false}},
            "text": {"field": "pctTotal", "type": "quantitative", "format": ".1f"}
          }
        }
      ],
      "resolve": {"scale": {"x": "independent", "y": "independent"}}
    }
  ]
}
